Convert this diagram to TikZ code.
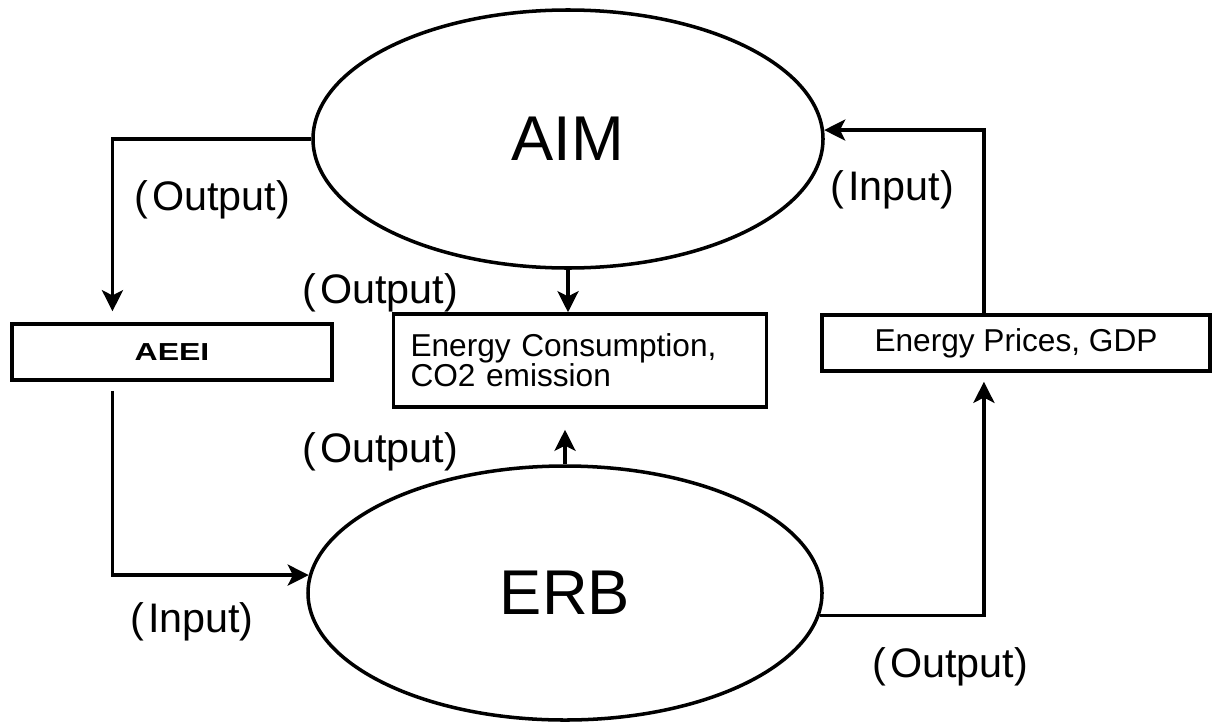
\documentclass[tikz,border=0pt]{standalone}
\usepackage{fontspec}
\setmainfont{Liberation Sans}
\usetikzlibrary{arrows.meta,calc,shapes.geometric}

\begin{document}
\begin{tikzpicture}[>={Stealth[length=12pt,width=12pt,inset=3pt]},
    model/.style={ellipse,draw,line width=2pt,inner sep=0pt,font=\fontsize{36}{40}\selectfont},
    databox/.style={rectangle,draw,line width=2pt,inner sep=0pt,font=\fontsize{18}{17}\selectfont},
    flow/.style={->,line width=2pt},
    tag/.style={anchor=base,font=\fontsize{23.5}{27}\selectfont}]
    \useasboundingbox (0,0) rectangle (24.26,-14.46);
    % models
    \node[model,minimum width=10.2cm,minimum height=5.16cm] (aim) at (11.36,-2.78) {AIM};
    \node[model,minimum width=10.28cm,minimum height=5.08cm] (erb) at (11.30,-11.86) {ERB};
    % exchanged data
    \node[databox,minimum width=6.4cm,minimum height=1.12cm,font=\fontsize{14}{16}\selectfont\bfseries] (aeei) at (3.44,-7.04) {\scalebox{1.3}[1]{AEEI}};
    \node[databox,minimum height=1.86cm,text width=6.78cm,inner xsep=0.34cm,align=left] (cons) at (11.6,-7.21) {Energy Consumption,\\CO2 emission};
    \node[databox,minimum width=7.76cm,minimum height=1.12cm] (prices) at (20.32,-6.86) {Energy Prices, GDP};

    \draw[flow,shorten >=0.22cm] (aim.west) -| ($(aeei.north west)!0.316!(aeei.north east)$);
    \draw[flow,shorten <=0.18cm] ($(aeei.south west)!0.316!(aeei.south east)$) |- (erb.176);
    \draw[flow,shorten >=0.18cm] (erb.-5) -| ($(prices.south west)!0.418!(prices.south east)$);
    \draw[flow] ($(prices.north west)!0.418!(prices.north east)$) |- (aim.2);
    \draw[flow] (aim.south) -- (aim.south |- cons.north);
    \draw[flow,shorten >=0.42cm] (erb.north) -- (erb.north |- cons.south);

    % labels
    \node[tag] (out1) at (4.24,-4.2) {(\kern.1em Output)};
    \node[tag] (out2) at (7.6,-6.06) {(\kern.1em Output)};
    \node[tag] (out3) at (7.6,-9.24) {(\kern.1em Output)};
    \node[tag] (in1) at (3.84,-12.64) {(\kern.1em Input)};
    \node[tag] (in2) at (17.84,-4.0) {(\kern.1em Input)};
    \node[tag] (out4) at (19.0,-13.54) {(\kern.1em Output)};
\end{tikzpicture}
\end{document}
